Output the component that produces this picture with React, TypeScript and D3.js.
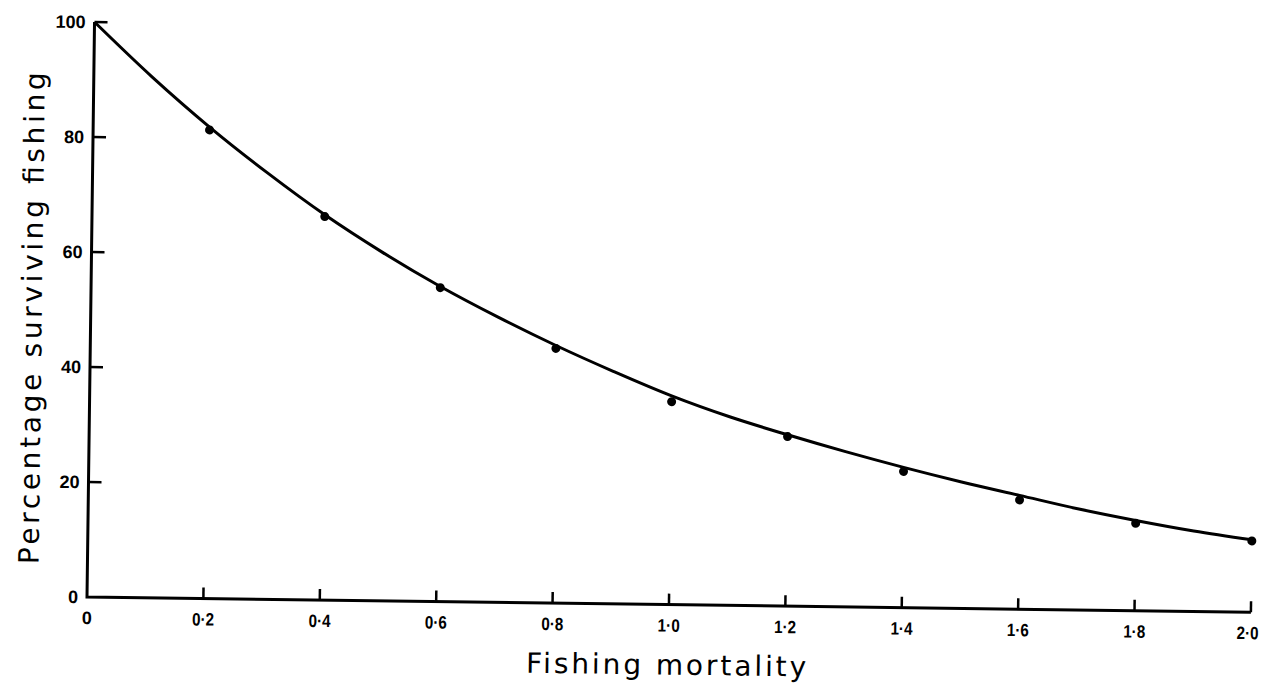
import * as d3 from 'd3'

// fishing mortality F and % surviving
const pointF = [0.2, 0.4, 0.6, 0.8, 1.0, 1.2, 1.4, 1.6, 1.8, 2.0]
const pointPct = [81.5, 66.7, 54.6, 44.3, 35.3, 29.5, 23.7, 19.0, 15.2, 12.4]

// fitted curve, sampled every 0.1
const curveF = [0, 0.1, 0.2, 0.3, 0.4, 0.5, 0.6, 0.7, 0.8, 0.9, 1.0, 1.1, 1.2, 1.3, 1.4, 1.5, 1.6, 1.7, 1.8, 1.9, 2.0]
const curvePct = [100, 90.6, 82.0, 74.2, 67.0, 60.6, 54.8, 49.6, 44.8, 40.4, 36.3, 32.8, 29.8, 27.0, 24.4, 22.0, 19.8, 17.6, 15.7, 14.0, 12.6]

const xTicks = [0, 0.2, 0.4, 0.6, 0.8, 1.0, 1.2, 1.4, 1.6, 1.8, 2.0]
const xTickLabels = ['0', '0·2', '0·4', '0·6', '0·8', '1·0', '1·2', '1·4', '1·6', '1·8', '2·0']
const yTicks = [0, 20, 40, 60, 80, 100]

export default function App() {
    const width = 1264
    const height = 685
    const ox = 87  // origin of the axes
    const oy = 597
    const tilt = 0.75 // the scanned figure is slightly rotated

    const x = d3.scaleLinear().domain([0, 2]).range([ox, ox + 1164])
    const y = d3.scaleLinear().domain([0, 100]).range([oy, oy - 575])

    const line = d3.line<number>()
        .x((d, i) => x(curveF[i]))
        .y(d => y(d))
        .curve(d3.curveCatmullRom)

    const font = '"DejaVu Sans", sans-serif'
    const tickFont = '"Liberation Sans", Arial, sans-serif'

    return (
        <svg width={width} height={height}
            style={{position: 'absolute', left: 0, top: 0, background: 'white'}}>
            <g transform={`rotate(${tilt}, ${ox}, ${oy})`}>
                {/* axes */}
                <path d={`M${x(0)},${y(100)} L${x(0)},${y(0)} L${x(2)},${y(0)}`}
                    fill="none" stroke="black" strokeWidth={3} />
                {yTicks.map(t => (
                    <g key={'y' + t}>
                        {t > 0 && <line x1={x(0)} x2={x(0) + 13} y1={y(t)} y2={y(t)}
                            stroke="black" strokeWidth={2.5} />}
                        <text x={x(0) - 9} y={y(t)} dy="0.35em" textAnchor="end"
                            fontFamily={tickFont} fontWeight="bold" fontSize={18}>{t}</text>
                    </g>
                ))}
                {xTicks.map((t, i) => (
                    <g key={'x' + t}>
                        {t > 0 && <line x1={x(t)} x2={x(t)} y1={y(0)} y2={y(0) - 11}
                            stroke="black" strokeWidth={2.5} />}
                        <text x={t === 2 ? x(t) - 3 : x(t)} y={y(0) + 27} textAnchor="middle"
                            fontFamily={tickFont} fontWeight="bold" fontSize={18}
                            textLength={xTickLabels[i].length > 1 ? 22 : undefined}
                            lengthAdjust="spacingAndGlyphs">{xTickLabels[i]}</text>
                    </g>
                ))}

                {/* curve and observations */}
                <path d={line(curvePct) ?? ''} fill="none" stroke="black" strokeWidth={3} />
                {pointF.map((f, i) => (
                    <circle key={f} cx={x(f)} cy={y(pointPct[i])} r={4.5} fill="black" />
                ))}

                {/* titles */}
                <text x={x(1) - 2} y={y(0) + 70} textAnchor="middle" fontFamily={font}
                    fontSize={28} textLength={280} lengthAdjust="spacing">Fishing mortality</text>
                <text transform={`translate(38, ${oy - 278}) rotate(-90)`} textAnchor="middle"
                    fontFamily={font} fontSize={28} textLength={492}
                    lengthAdjust="spacing">Percentage surviving fishing</text>
            </g>
        </svg>
    )
}
